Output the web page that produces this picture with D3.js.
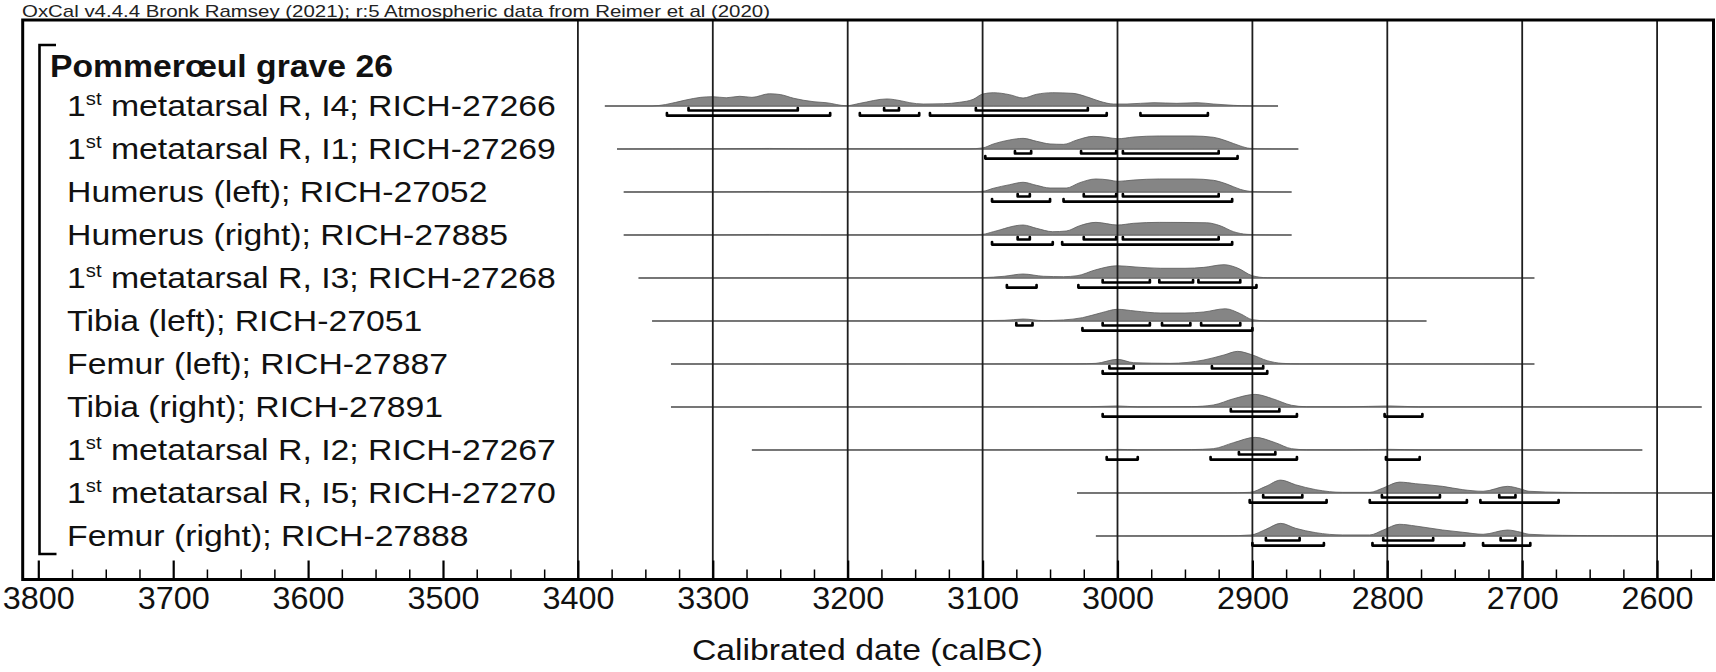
<!DOCTYPE html>
<html>
<head>
<meta charset="utf-8">
<script src="https://cdn.jsdelivr.net/npm/d3@7"></script>
<style>
  body { margin: 0; background: #fff; }
  svg { display: block; font-family: "Liberation Sans", Arial, sans-serif; }
</style>
</head>
<body>
<svg id="chart" width="1716" height="672"></svg>
<script>
// ---- data ----
const header = "OxCal v4.4.4 Bronk Ramsey (2021); r:5 Atmospheric data from Reimer et al (2020)";
const groupName = "Pommerœul grave 26";
const axisTitle = "Calibrated date (calBC)";

// "^st" marks the superscript
const labels = [
  "1^st metatarsal R, I4; RICH-27266",
  "1^st metatarsal R, I1; RICH-27269",
  "Humerus (left); RICH-27052",
  "Humerus (right); RICH-27885",
  "1^st metatarsal R, I3; RICH-27268",
  "Tibia (left); RICH-27051",
  "Femur (left); RICH-27887",
  "Tibia (right); RICH-27891",
  "1^st metatarsal R, I2; RICH-27267",
  "1^st metatarsal R, I5; RICH-27270",
  "Femur (right); RICH-27888"
];

// probability densities [calBC, relative %]
const densI4 = [[3380,0],[3345,0],[3335,11],[3320,45],[3309,65],[3300,70],[3290,62],[3280,73],[3271,65],[3258,92],[3250,86],[3240,58],[3225,32],[3216,25],[3201,2],[3191,20],[3171,53],[3160,38],[3154,25],[3144,15],[3129,17],[3117,28],[3107,50],[3100,90],[3092,100],[3080,85],[3070,60],[3060,88],[3048,100],[3033,95],[3023,70],[3013,35],[3003,15],[2993,15],[2973,25],[2956,20],[2941,25],[2929,15],[2914,5],[2902,1],[2881,0]];
const densI1 = [[3371,0],[3330,1],[3300,2],[3258,4],[3230,1],[3200,2],[3150,1],[3110,1],[3100,8],[3092,38],[3080,68],[3070,80],[3060,58],[3050,38],[3040,35],[3030,68],[3018,95],[3008,88],[3000,77],[2988,90],[2969,98],[2944,98],[2929,88],[2919,60],[2909,23],[2902,5],[2890,1],[2866,0]];
const densHumL = [[3366,0],[3300,1],[3258,4],[3220,1],[3150,1],[3110,1],[3100,5],[3092,28],[3080,55],[3070,73],[3060,50],[3050,30],[3038,30],[3028,70],[3016,98],[3006,90],[3000,80],[2988,90],[2969,98],[2944,98],[2929,88],[2919,60],[2909,20],[2902,5],[2890,1],[2871,0]];
const densHumR = [[3366,0],[3300,1],[3258,4],[3220,1],[3150,1],[3110,1],[3100,5],[3092,25],[3070,75],[3060,50],[3048,25],[3038,30],[3028,70],[3016,95],[3000,75],[2988,88],[2969,95],[2934,92],[2924,70],[2914,25],[2904,5],[2890,1],[2871,0]];
const densI3 = [[3355,0],[3250,1],[3124,1],[3100,3],[3084,13],[3070,30],[3055,13],[3040,10],[3030,17],[3016,62],[3000,92],[2987,83],[2968,73],[2950,73],[2936,80],[2921,100],[2911,75],[2900,17],[2889,2],[2870,1],[2800,1],[2691,0]];
const densTibL = [[3345,0],[3124,1],[3084,5],[3070,15],[3055,3],[3040,8],[3026,25],[3012,62],[3000,88],[2987,75],[2968,60],[2950,60],[2936,68],[2920,92],[2909,55],[2900,10],[2889,1],[2771,0]];
const densFemL = [[3331,0],[3030,1],[3016,5],[3000,35],[2988,10],[2961,5],[2936,30],[2921,68],[2911,95],[2900,68],[2889,25],[2878,5],[2865,1],[2691,0]];
const densTibR = [[3331,0],[3020,2],[3000,8],[2985,1],[2945,3],[2929,15],[2914,62],[2898,95],[2885,62],[2871,13],[2860,2],[2830,1],[2798,8],[2777,1],[2715,2],[2567,0]];
const densI2 = [[3271,0],[3010,2],[3000,5],[2985,1],[2945,3],[2929,10],[2914,55],[2898,95],[2883,55],[2871,10],[2860,2],[2830,1],[2798,5],[2777,1],[2611,0]];
const densI5 = [[3030,0],[2920,1],[2902,5],[2890,50],[2879,97],[2868,62],[2853,25],[2833,5],[2813,5],[2803,38],[2791,82],[2779,70],[2759,50],[2744,25],[2729,13],[2711,50],[2701,30],[2695,13],[2670,5],[2633,2],[2600,1],[2550,1]];
const densFemR = [[3016,0],[2920,1],[2901,8],[2890,50],[2879,95],[2868,58],[2853,25],[2833,8],[2813,8],[2803,45],[2791,88],[2779,75],[2759,45],[2744,28],[2729,13],[2711,45],[2701,28],[2695,13],[2670,5],[2633,2],[2600,1],[2550,1]];
const densities = [densI4, densI1, densHumL, densHumR, densI3, densTibL, densFemL, densTibR, densI2, densI5, densFemR];

// highest probability ranges (calBC from, to)
const range68 = [
  [[3318,3237],[3173,3162],[3105,3022]],
  [[3076,3064],[3027,3001],[2996,2925]],
  [[3074,3065],[3025,3001],[2996,2925]],
  [[3074,3065],[3025,3001],[2996,2925]],
  [[3011,2976],[2969,2944],[2940,2909]],
  [[3075,3063],[3011,2976],[2967,2946],[2938,2909]],
  [[3006,2988],[2930,2892]],
  [[2916,2880]],
  [[2910,2883]],
  [[2892,2863],[2804,2761],[2717,2705]],
  [[2890,2865],[2803,2766],[2716,2705]]
];
const range95 = [
  [[3334,3213],[3191,3147],[3139,3008],[2983,2933]],
  [[3098,2911]],
  [[3093,3050],[3040,2915]],
  [[3093,3048],[3041,2915]],
  [[3082,3060],[3029,2897]],
  [[3026,2900]],
  [[3011,2889]],
  [[3011,2867],[2802,2774]],
  [[3008,2985],[2931,2867],[2801,2776]],
  [[2902,2845],[2813,2741],[2731,2673]],
  [[2900,2847],[2811,2743],[2729,2694]]
];

const majorTicks = d3.range(3800, 2599, -100);
const minorTicks = d3.range(3800, 2549, -25).filter(y => y % 100 !== 0);
const gridYears = d3.range(3400, 2599, -100);

// ---- layout ----
const frame = { left: 22.7, top: 20, right: 1713.5, bottom: 579.5 };
const firstRowY = 106, rowStep = 43;

const svg = d3.select("#chart");
const x = d3.scaleLinear().domain([3800, 2600]).range([38.3, 1657.1]);
const h = d3.scaleLinear().domain([0, 100]).range([0, 13.3]);
const rowY = i => firstRowY + rowStep * i;

svg.append("defs").append("clipPath").attr("id", "plotClip")
  .append("rect")
  .attr("x", frame.left).attr("y", frame.top)
  .attr("width", frame.right - frame.left).attr("height", frame.bottom - frame.top);

// header
svg.append("text")
  .attr("x", 22).attr("y", 16.5)
  .attr("font-size", 17).attr("fill", "#222")
  .attr("textLength", 748).attr("lengthAdjust", "spacingAndGlyphs")
  .text(header);

const plot = svg.append("g").attr("clip-path", "url(#plotClip)");

// distributions
densities.forEach((dens, i) => {
  const base = rowY(i);
  const area = d3.area()
    .x(d => x(d[0]))
    .y0(base)
    .y1(d => base - h(d[1]))
    .curve(d3.curveMonotoneX);

  plot.append("line")
    .attr("x1", x(dens[0][0])).attr("x2", x(dens[dens.length - 1][0]))
    .attr("y1", base).attr("y2", base)
    .attr("stroke", "#8c8c8c").attr("stroke-width", 1.3);

  plot.append("path")
    .datum(dens)
    .attr("d", area)
    .attr("fill", "#858585")
    .attr("stroke", "#5a5a5a")
    .attr("stroke-width", 0.8);
});

// vertical grid
plot.selectAll(".grid")
  .data(gridYears)
  .enter()
  .append("line")
  .attr("class", "grid")
  .attr("x1", d => x(d)).attr("x2", d => x(d))
  .attr("y1", frame.top).attr("y2", frame.bottom)
  .attr("stroke", "#1e1e1e").attr("stroke-width", 1.8);

// range bars
function drawBars(ranges, offset) {
  ranges.forEach((list, i) => {
    const yy = rowY(i) + offset;
    list.forEach(r => {
      plot.append("path")
        .attr("d", `M${x(r[0])},${yy - 2.5}V${yy}H${x(r[1])}V${yy - 2.5}`)
        .attr("fill", "none")
        .attr("stroke", "#000")
        .attr("stroke-width", 2.7)
        .attr("stroke-linecap", "round")
        .attr("stroke-linejoin", "round");
    });
  });
}
drawBars(range68, 4.5);
drawBars(range95, 9.6);

// axis ticks (inside the frame)
const axisG = svg.append("g").attr("transform", `translate(0,${frame.bottom})`);
axisG.call(d3.axisBottom(x).tickValues(minorTicks).tickSize(-10).tickFormat(""))
  .call(g => g.select(".domain").remove())
  .selectAll("line").attr("stroke-width", 1.5);

const majorG = svg.append("g").attr("transform", `translate(0,${frame.bottom})`);
majorG.call(d3.axisBottom(x).tickValues(majorTicks).tickSize(-19).tickFormat(d3.format("d")))
  .call(g => g.select(".domain").remove());
majorG.selectAll("line").attr("stroke-width", 2.2);
majorG.selectAll("text")
  .attr("y", 29.8).attr("dy", 0)
  .attr("font-size", 31.5)
  .attr("font-family", "Liberation Sans, Arial, sans-serif")
  .attr("fill", "#111")
  .attr("textLength", 72).attr("lengthAdjust", "spacingAndGlyphs");

// frame
svg.append("rect")
  .attr("x", frame.left).attr("y", frame.top)
  .attr("width", frame.right - frame.left).attr("height", frame.bottom - frame.top)
  .attr("fill", "none").attr("stroke", "#000").attr("stroke-width", 3);

// axis title
svg.append("text")
  .attr("x", 867.4).attr("y", 659.5)
  .attr("text-anchor", "middle")
  .attr("font-size", 29.5).attr("fill", "#111")
  .attr("textLength", 351).attr("lengthAdjust", "spacingAndGlyphs")
  .text(axisTitle);

// group bracket
svg.append("path")
  .attr("d", `M56,45H39.5V554H56.5`)
  .attr("fill", "none").attr("stroke", "#000").attr("stroke-width", 2.6);

svg.append("text")
  .attr("x", 50).attr("y", 77.3)
  .attr("font-size", 31).attr("font-weight", "bold").attr("fill", "#111")
  .attr("textLength", 343).attr("lengthAdjust", "spacingAndGlyphs")
  .text(groupName);

// sample labels
const labelG = svg.append("g");
labels.forEach((lab, i) => {
  const t = labelG.append("text")
    .attr("x", 0).attr("y", rowY(i) + 9.8)
    .attr("font-size", 30).attr("fill", "#111");
  const parts = lab.split("^st");
  if (parts.length > 1) {
    t.append("tspan").text(parts[0]);
    t.append("tspan").attr("font-size", 18).attr("dy", -10.5).text("st");
    t.append("tspan").attr("dy", 10.5).text(parts[1]);
  } else {
    t.text(lab);
  }
});
const firstW = labelG.select("text").node().getBBox().width;
const k = 489 / firstW;
labelG.attr("transform", `translate(67,0) scale(${k},1)`);
</script>
</body>
</html>
